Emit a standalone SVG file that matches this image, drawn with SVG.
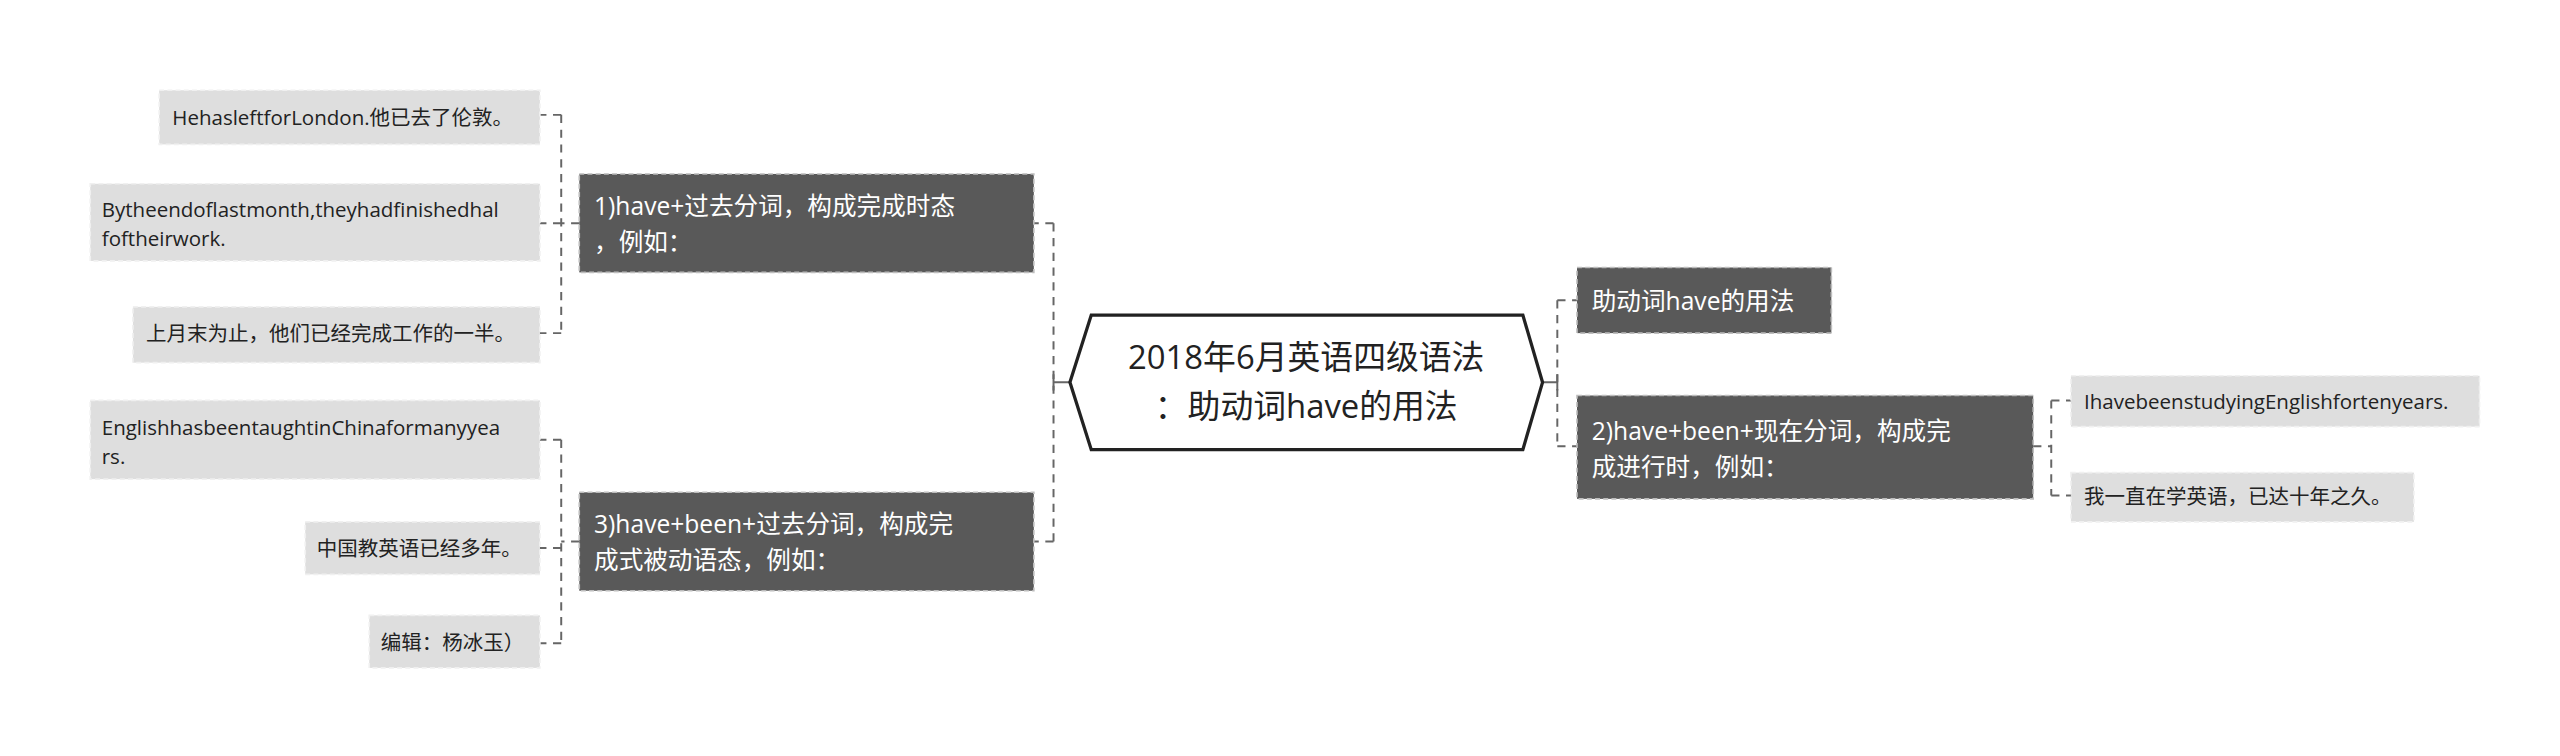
<svg xmlns="http://www.w3.org/2000/svg" width="2560" height="756" viewBox="0 0 2560 756">
<style>
.dk{fill:#595959;stroke:#bdbdbd;stroke-width:1;stroke-dasharray:3 2}
.lt{fill:#dedede;stroke:#f0f0f0;stroke-width:1;stroke-dasharray:3 2}
.c{fill:none;stroke:#666;stroke-width:1.2;stroke-dasharray:5 4}
.s{fill:none;stroke:#666;stroke-width:1.2}
text{font-family:"Open Sans","Noto Sans CJK SC",sans-serif}
.wt{fill:#fff;font-size:15px}
.bt{fill:#222;font-size:12.5px}
</style>
<rect width="2560" height="756" fill="#fff"/>
<g transform="scale(1.641)">
<g id="connectors">
<path class="s" d="M652 233H642M642 228V238"/>
<path class="c" d="M642 136V330M642 136H630M642 330H630"/>
<path class="c" d="M353 136H342M342 70V203M342 70H329M342 136H329M342 203H329"/>
<path class="c" d="M353 330H342M342 268V392M342 268H329M342 334H329M342 392H329"/>
<path class="s" d="M940 233H949M949 228V238"/>
<path class="c" d="M949 183V272M949 183H961M949 272H961"/>
<path class="c" d="M1239 272H1250M1250 244V302M1250 244H1262M1250 302H1262"/>
</g>
<g id="center">
<polygon points="665,192 928,192 940,233 928,274 665,274 652,233" fill="#fff" stroke="#222" stroke-width="2"/>
<text x="796" y="225" font-size="20" text-anchor="middle" fill="#222">2018年6月英语四级语法</text>
<text x="796" y="255" font-size="20" text-anchor="middle" fill="#222">：助动词have的用法</text>
</g>
<g id="n1"><rect class="dk" x="353" y="106" width="277" height="60"/>
<text class="wt" x="362" y="131">1)have+过去分词，构成完成时态</text><text class="wt" x="362" y="153">，例如：</text></g>
<g id="n3"><rect class="dk" x="353" y="300" width="277" height="60"/>
<text class="wt" x="362" y="325">3)have+been+过去分词，构成完</text><text class="wt" x="362" y="347">成式被动语态，例如：</text></g>
<g id="r0"><rect class="dk" x="961" y="163" width="155" height="40"/>
<text class="wt" x="970" y="189">助动词have的用法</text></g>
<g id="n2"><rect class="dk" x="961" y="241" width="278" height="63"/>
<text class="wt" x="970" y="268">2)have+been+现在分词，构成完</text><text class="wt" x="970" y="290">成进行时，例如：</text></g>
<g id="l1"><rect class="lt" x="97" y="55" width="232" height="33"/><text class="bt" x="105" y="76">HehasleftforLondon.他已去了伦敦。</text></g>
<g id="l2"><rect class="lt" x="55" y="112" width="274" height="47"/><text class="bt" x="62" y="132">Bytheendoflastmonth,theyhadfinishedhal</text><text class="bt" x="62" y="150">foftheirwork.</text></g>
<g id="l3"><rect class="lt" x="81" y="187" width="248" height="34"/><text class="bt" x="89" y="208">上月末为止，他们已经完成工作的一半。</text></g>
<g id="l4"><rect class="lt" x="55" y="244" width="274" height="48"/><text class="bt" x="62" y="265">EnglishhasbeentaughtinChinaformanyyea</text><text class="bt" x="62" y="283">rs.</text></g>
<g id="l5"><rect class="lt" x="186" y="318" width="143" height="32"/><text class="bt" x="193" y="339">中国教英语已经多年。</text></g>
<g id="l6"><rect class="lt" x="225" y="375" width="104" height="32"/><text class="bt" x="232" y="396">编辑：杨冰玉）</text></g>
<g id="r1"><rect class="lt" x="1262" y="229" width="249" height="31"/><text class="bt" x="1270" y="249">IhavebeenstudyingEnglishfortenyears.</text></g>
<g id="r2"><rect class="lt" x="1262" y="288" width="209" height="30"/><text class="bt" x="1270" y="307">我一直在学英语，已达十年之久。</text></g>
</g>
</svg>
